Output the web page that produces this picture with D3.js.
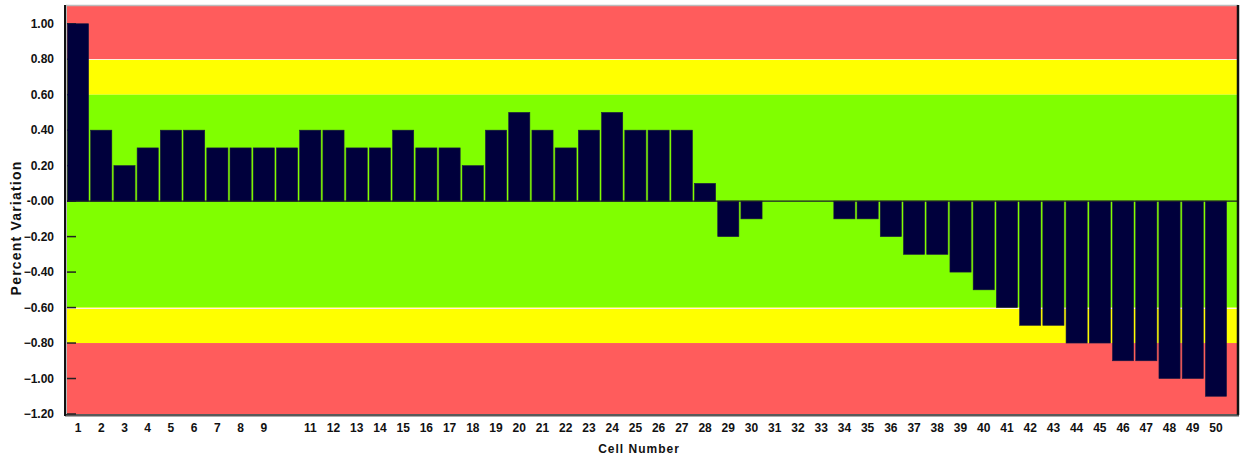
<!DOCTYPE html>
<html><head><meta charset="utf-8">
<script src="https://cdn.jsdelivr.net/npm/d3@7"></script>
<style>body{margin:0;background:#fff;}svg{display:block;font-family:"Liberation Sans",Arial,sans-serif;}</style>
</head><body><svg id="c" width="1240" height="460"></svg>
<script>
const cells = d3.range(1, 51);
const values = [1.0,0.4,0.2,0.3,0.4,0.4,0.3,0.3,0.3,0.3,
                0.4,0.4,0.3,0.3,0.4,0.3,0.3,0.2,0.4,0.5,
                0.4,0.3,0.4,0.5,0.4,0.4,0.4,0.1,-0.2,-0.1,
                0,0,0,-0.1,-0.1,-0.2,-0.3,-0.3,-0.4,-0.5,
                -0.6,-0.7,-0.7,-0.8,-0.8,-0.9,-0.9,-1.0,-1.0,-1.1];
const xTickLabels = cells.filter(d => d !== 10);
const yTicks = [1.0,0.8,0.6,0.4,0.2,0,-0.2,-0.4,-0.6,-0.8,-1.0,-1.2];
const bandLo = [0.8, 0.6, -0.6, -0.8, -1.2];
const bandHi = [1.1, 0.8, 0.6, -0.6, -0.8];
const bandColors = ["#ff5c5c","#ffff00","#80ff00","#ffff00","#ff5c5c"];

const svg = d3.select("#c");
const L = 66, R = 1237, T = 6, B = 414;
const y = d3.scaleLinear().domain([-1.2, 1.1]).range([B, T]);
const x = d3.scaleBand().domain(cells).range([67, 1227]).paddingInner(0.09).paddingOuter(0.02);

// bands
svg.append("g").selectAll("rect").data(bandLo).join("rect")
  .attr("x", L).attr("width", R - L)
  .attr("y", (d,i) => y(bandHi[i])).attr("height", (d,i) => y(d) - y(bandHi[i]))
  .attr("fill", (d,i) => bandColors[i]);
// light separators
svg.append("g").selectAll("line").data([0.8, -0.6]).join("line")
  .attr("x1", L).attr("x2", R).attr("y1", d => Math.round(y(d))+0.5).attr("y2", d => Math.round(y(d))+0.5)
  .attr("stroke", "#fff2e0").attr("stroke-width", 1);

// inner ticks
svg.append("g").selectAll("line").data(yTicks).join("line")
  .attr("x1", L).attr("x2", L + 10).attr("y1", d => y(d)).attr("y2", d => y(d))
  .attr("stroke", "#222").attr("stroke-width", 1.5);

// bars
svg.append("g").selectAll("rect").data(values).join("rect")
  .attr("x", (d,i) => x(cells[i])).attr("width", x.bandwidth())
  .attr("y", d => y(Math.max(0, d))).attr("height", d => Math.abs(y(d) - y(0)))
  .attr("fill", "#00003c").attr("stroke", "#1a1a40").attr("stroke-width", 0.6);

// zero line
svg.append("line").attr("x1", L).attr("x2", R).attr("y1", y(0)).attr("y2", y(0))
  .attr("stroke", "#1a1a2a").attr("stroke-width", 1.2);

// frame
svg.append("line").attr("x1", L).attr("x2", R+1).attr("y1", T-0.5).attr("y2", T-0.5).attr("stroke", "#bbb").attr("stroke-width", 1.5);
svg.append("line").attr("x1", R+1).attr("x2", R+1).attr("y1", T-1).attr("y2", B+1).attr("stroke", "#111").attr("stroke-width", 2.5);
svg.append("line").attr("x1", L-1).attr("x2", R+2).attr("y1", B+1).attr("y2", B+1).attr("stroke", "#222").attr("stroke-width", 1.5);
svg.append("line").attr("x1", L-1).attr("x2", R+2).attr("y1", B+2.5).attr("y2", B+2.5).attr("stroke", "#aaa").attr("stroke-width", 1);
svg.append("line").attr("x1", L-1).attr("x2", L-1).attr("y1", T-1).attr("y2", B+2).attr("stroke", "#111").attr("stroke-width", 2);
svg.append("line").attr("x1", L+0.5).attr("x2", L+0.5).attr("y1", T).attr("y2", B).attr("stroke", "#bbb").attr("stroke-width", 1);

// y labels
const fmt = d => (d === 0 ? "-0.00" : d3.format(".2f")(d));
svg.append("g").selectAll("text").data(yTicks).join("text")
  .attr("x", 54).attr("y", d => y(d)).attr("dy", "0.35em").attr("text-anchor", "end")
  .attr("font-size", 12).attr("font-weight", "bold").attr("fill", "#111")
  .text(fmt);

// x labels
svg.append("g").selectAll("text").data(xTickLabels).join("text")
  .attr("x", d => x(d) + x.bandwidth()/2).attr("y", 428).attr("dy", "0.35em").attr("text-anchor", "middle")
  .attr("font-size", 12).attr("font-weight", "bold").attr("fill", "#111")
  .text(d => d);

// titles
svg.append("text").attr("x", 639).attr("y", 453).attr("text-anchor", "middle")
  .attr("font-size", 12).attr("font-weight", "bold").attr("letter-spacing", 1).attr("fill", "#111").text("Cell Number");
svg.append("text").attr("transform", "translate(21,228) rotate(-90)").attr("text-anchor", "middle")
  .attr("font-size", 14).attr("font-weight", "bold").attr("letter-spacing", 1.2).attr("fill", "#111").text("Percent Variation");
</script></body></html>
